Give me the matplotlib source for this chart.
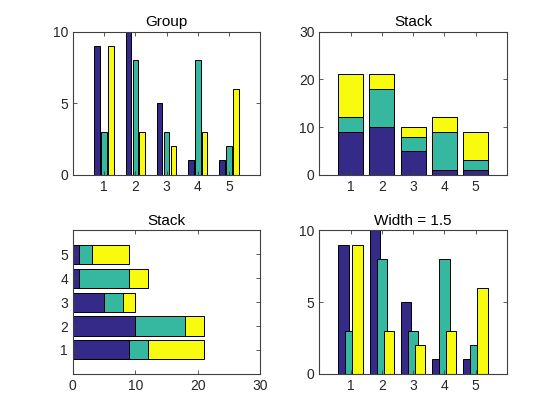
import numpy as np
import matplotlib
matplotlib.use("Agg")
import matplotlib.pyplot as plt

plt.rcParams['font.family'] = ['Liberation Sans', 'DejaVu Sans']

groups = [1, 2, 3, 4, 5]
s1 = [9, 10, 5, 1, 1]
s2 = [3, 8, 3, 8, 2]
s3 = [9, 3, 2, 3, 6]
colors = ['#352a87', '#35b7a0', '#f9fb0e']
edge = 'black'
axcol = '#404040'


def style(ax):
    for sp in ax.spines.values():
        sp.set_color(axcol)
        sp.set_linewidth(0.8)
    ax.tick_params(direction='in', top=True, right=True, length=3,
                   colors=axcol, labelcolor='#262626', labelsize=10, width=0.6)


fig = plt.figure(figsize=(5.6, 4.2), dpi=100)
pos = [[0.13, 0.5838, 0.3347, 0.3412], [0.5703, 0.5838, 0.3347, 0.3412],
       [0.13, 0.11, 0.3347, 0.3412], [0.5703, 0.11, 0.3347, 0.3412]]
axs = [fig.add_axes(p) for p in pos]

x = np.array(groups)
series = [s1, s2, s3]
gw = min(0.8, 3 / 4.5)
offs = [-gw / 2 + (2 * i + 1) * gw / 6 for i in range(3)]

# grouped
ax = axs[0]
for i, s in enumerate(series):
    ax.bar(x + offs[i], s, width=0.8 * gw / 3, color=colors[i], edgecolor=edge, linewidth=0.7)
ax.set_xlim(0, 6)
ax.set_ylim(0, 10)
ax.set_xticks(groups)
ax.set_yticks([0, 5, 10])
ax.set_title('Group', fontsize=11, color='black', pad=4)
style(ax)

# stacked vertical
ax = axs[1]
bottom = np.zeros(5)
for i, s in enumerate(series):
    ax.bar(x, s, width=0.8, bottom=bottom, color=colors[i], edgecolor=edge, linewidth=0.7)
    bottom += np.array(s)
ax.set_xlim(0, 6)
ax.set_ylim(0, 30)
ax.set_xticks(groups)
ax.set_yticks([0, 10, 20, 30])
ax.set_title('Stack', fontsize=11, color='black', pad=4)
style(ax)

# stacked horizontal
ax = axs[2]
left = np.zeros(5)
for i, s in enumerate(series):
    ax.barh(x, s, height=0.8, left=left, color=colors[i], edgecolor=edge, linewidth=0.7)
    left += np.array(s)
ax.set_ylim(0, 6)
ax.set_xlim(0, 30)
ax.set_yticks(groups)
ax.set_xticks([0, 10, 20, 30])
ax.set_title('Stack', fontsize=11, color='black', pad=4)
style(ax)

# width 1.5
ax = axs[3]
for i, s in enumerate(series):
    ax.bar(x + offs[i], s, width=1.5 * gw / 3, color=colors[i], edgecolor=edge, linewidth=0.7)
ax.set_xlim(0, 6)
ax.set_ylim(0, 10)
ax.set_xticks(groups)
ax.set_yticks([0, 5, 10])
ax.set_title('Width = 1.5', fontsize=11, color='black', pad=4)
style(ax)

fig.savefig('out.png', dpi=100)
